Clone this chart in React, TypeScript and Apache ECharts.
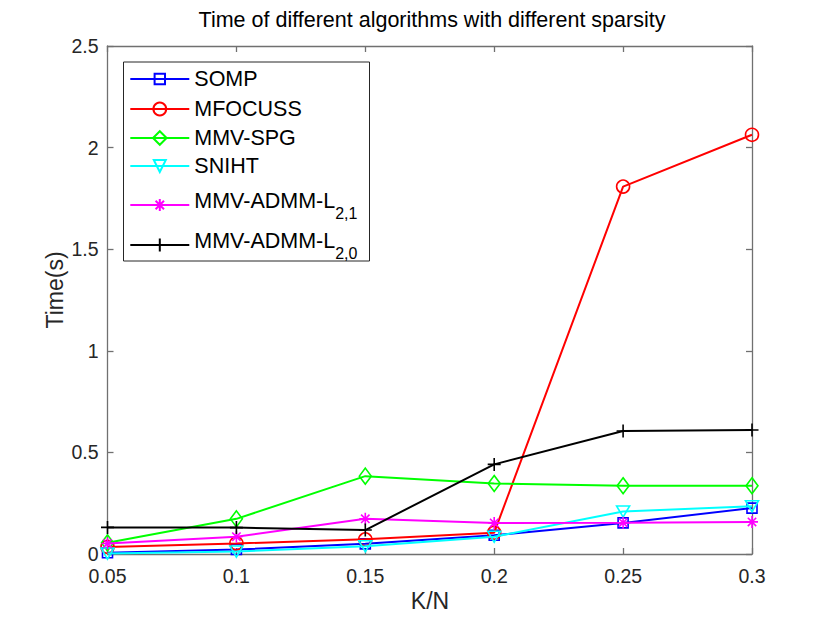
import React, { useEffect, useRef } from "react";
import * as echarts from "echarts";

const X_VALUES = [0.05, 0.1, 0.15, 0.2, 0.25, 0.3];
const SOMP = [0.006, 0.022, 0.05, 0.092, 0.153, 0.226];
const MFOCUSS = [0.035, 0.052, 0.072, 0.105, 1.808, 2.063];
const MMV_SPG = [0.055, 0.173, 0.383, 0.347, 0.336, 0.336];
const SNIHT = [0.002, 0.012, 0.038, 0.085, 0.209, 0.235];
const ADMM_L21 = [0.052, 0.085, 0.173, 0.153, 0.154, 0.158];
const ADMM_L20 = [0.131, 0.13, 0.118, 0.441, 0.605, 0.61];
const NAMES = ["SOMP", "MFOCUSS", "MMV-SPG", "SNIHT", "MMV-ADMM-L2,1", "MMV-ADMM-L2,0"];
const Y_TICKS = [0, 0.5, 1, 1.5, 2, 2.5];

const FONT = '"Liberation Sans", Arial, Helvetica, sans-serif';
const AXIS_COLOR = "#707070";
const LABEL_COLOR = "#262626";

const ASTERISK = "path://M0,-1L0,1M-1,0L1,0M-0.7,-0.7L0.7,0.7M-0.7,0.7L0.7,-0.7";
const PLUS = "path://M0,-1L0,1M-1,0L1,0";

const STYLES = [
  { color: "#0000ff", symbol: "rect", size: 10, rotate: 0, legendH: 13 },
  { color: "#ff0000", symbol: "circle", size: 13, rotate: 0, legendH: 16 },
  { color: "#00ff00", symbol: "diamond", size: [12, 16], rotate: 0, legendH: 17 },
  { color: "#00ffff", symbol: "triangle", size: [13, 11], rotate: 180, legendH: 15 },
  { color: "#ff00ff", symbol: ASTERISK, size: 12, rotate: 0, legendH: 15 },
  { color: "#000000", symbol: PLUS, size: 13, rotate: 0, legendH: 16 },
];
const ROW_Y = [79, 109, 138, 166, 200, 240];

const fmt = (v: number) => String(Number(v.toFixed(2)));

export default function App() {
  const ref = useRef<HTMLDivElement>(null);
  useEffect(() => {
    document.body.style.margin = "0";
    if (!ref.current) return;
    const chart = echarts.init(ref.current, undefined, { renderer: "svg" });
    const allData = [SOMP, MFOCUSS, MMV_SPG, SNIHT, ADMM_L21, ADMM_L20];

    const axisCommon = {
      type: "value" as const,
      axisLine: { show: true, onZero: false, lineStyle: { color: AXIS_COLOR, width: 1.3 } },
      axisTick: { show: true, inside: true, length: 6, lineStyle: { color: AXIS_COLOR, width: 1.3 } },
      splitLine: { show: false },
    };

    const legends = NAMES.map((n, i) => {
      const sub = i >= 4;
      return {
        data: [n],
        orient: "vertical" as const,
        left: 129.3,
        top: ROW_Y[i] - 11,
        padding: 0,
        itemWidth: 59,
        itemHeight: STYLES[i].legendH,
        selectedMode: false,
        formatter: (name: string) =>
          sub ? `{m|${name.slice(0, 10)}}{s|${name.slice(10)}}` : `{m|${name}}`,
        textStyle: {
          color: "#000",
          fontFamily: FONT,
          fontSize: 21.5,
          lineHeight: 22,
          rich: {
            m: {
              fontFamily: FONT,
              fontSize: 21.5,
              lineHeight: 22,
              color: "#000",
              padding: sub ? [0, 0, 8, 0] : [0, 0, 0, 0],
            },
            s: {
              fontFamily: FONT,
              fontSize: 16,
              lineHeight: 22,
              color: "#000",
              padding: [16, 0, 0, 0],
            },
          },
        },
      };
    });

    chart.setOption({
      animation: false,
      grid: { left: 107.5, right: 78, top: 46, bottom: 69, containLabel: false },
      xAxis: [
        {
          ...axisCommon,
          position: "bottom",
          min: 0.05,
          max: 0.3,
          interval: 0.05,
          axisLabel: { show: true, fontSize: 19.5, fontFamily: FONT, color: LABEL_COLOR, margin: 12, formatter: fmt },
        },
        {
          ...axisCommon,
          position: "top",
          min: 0.05,
          max: 0.3,
          interval: 0.05,
          axisLabel: { show: false },
        },
      ],
      yAxis: [
        {
          ...axisCommon,
          position: "left",
          min: Y_TICKS[0],
          max: Y_TICKS[Y_TICKS.length - 1],
          interval: 0.5,
          axisLabel: { show: true, fontSize: 19.5, fontFamily: FONT, color: LABEL_COLOR, margin: 9, formatter: fmt },
        },
        {
          ...axisCommon,
          position: "right",
          min: Y_TICKS[0],
          max: Y_TICKS[Y_TICKS.length - 1],
          interval: 0.5,
          axisLabel: { show: false },
        },
      ],
      legend: legends,
      graphic: [
        {
          type: "rect",
          shape: { x: 123.5, y: 62, width: 246, height: 199 },
          style: { fill: "none", stroke: "#262626", lineWidth: 1 },
          z: 1,
          silent: true,
        },
        {
          type: "text",
          x: 432,
          y: 20,
          style: {
            text: "Time of different algorithms with different sparsity",
            fontSize: 21.5,
            fontFamily: FONT,
            fill: "#000",
            align: "center",
            verticalAlign: "middle",
          },
        },
        {
          type: "text",
          x: 430,
          y: 601,
          style: {
            text: "K/N",
            fontSize: 23,
            fontFamily: FONT,
            fill: LABEL_COLOR,
            align: "center",
            verticalAlign: "middle",
          },
        },
        {
          type: "text",
          x: 55,
          y: 290,
          rotation: Math.PI / 2,
          style: {
            text: "Time(s)",
            fontSize: 23,
            fontFamily: FONT,
            fill: LABEL_COLOR,
            align: "center",
            verticalAlign: "middle",
          },
        },
      ],
      series: NAMES.map((n, i) => ({
        name: n,
        type: "line",
        xAxisIndex: 0,
        yAxisIndex: 0,
        data: X_VALUES.map((x, j) => [x, allData[i][j]]),
        symbol: STYLES[i].symbol,
        symbolSize: STYLES[i].size,
        symbolRotate: STYLES[i].rotate,
        showAllSymbol: true,
        clip: false,
        z: 2 + i,
        lineStyle: { color: STYLES[i].color, width: 2 },
        itemStyle: { color: "none", borderColor: STYLES[i].color, borderWidth: 1.6 },
        emphasis: { disabled: true },
      })),
    });
    return () => chart.dispose();
  }, []);
  return <div ref={ref} style={{ width: 830, height: 623 }} />;
}
